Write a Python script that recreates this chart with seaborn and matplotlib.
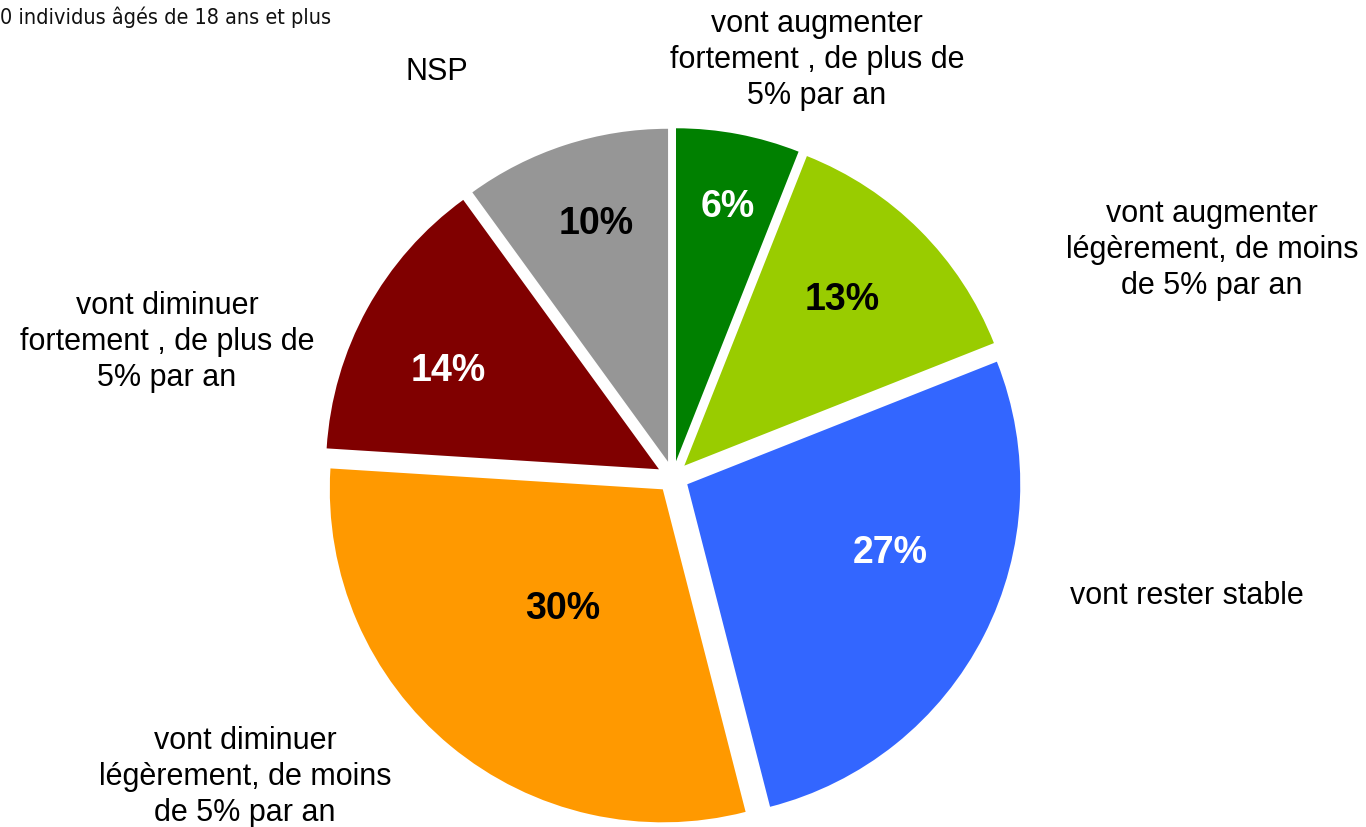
import matplotlib
matplotlib.use("Agg")
import matplotlib.pyplot as plt
import seaborn as sns

# data
categories = [
    "vont augmenter\nfortement , de plus de\n5% par an",
    "vont augmenter\nlégèrement, de moins\nde 5% par an",
    "vont rester stable",
    "vont diminuer\nlégèrement, de moins\nde 5% par an",
    "vont diminuer\nfortement , de plus de\n5% par an",
    "NSP",
]
shares = [6, 13, 27, 30, 14, 10]
note = "0 individus âgés de 18 ans et plus"

# style
colors = ["#008000", "#99CC00", "#3366FF", "#FF9900", "#800000", "#969696"]
pct_colors = ["white", "black", "white", "black", "white", "black"]
W, H = 1366, 828
center_px = (673, 478)
radius_px = 333
explode_px = 16
# label positions in pixels (x, y from top)
pct_pos = [(728, 207), (842, 300), (890, 553), (563, 609), (448, 371), (596, 224)]
label_pos = [(817, 60), (1212, 250), (1187, 596), (245, 777), (167, 342), (437, 72)]

sns.set_style("white")
plt.rcParams["font.family"] = ["Liberation Sans", "DejaVu Sans"]

fig = plt.figure(figsize=(W / 100, H / 100), dpi=100)
ax = fig.add_axes([0, 0, 1, 1])

wedges, _, autotexts = ax.pie(
    shares,
    colors=sns.color_palette(colors),
    startangle=90,
    counterclock=False,
    center=(center_px[0], H - center_px[1]),
    radius=radius_px,
    explode=[explode_px] * len(shares),
    autopct="%1.0f%%",
    wedgeprops=dict(linewidth=0),
)
for t, c, (px, py) in zip(autotexts, pct_colors, pct_pos):
    t.set_position((px, H - py))
    t.set_color(c)
    t.set_fontsize(27)
    t.set_fontweight("bold")
    t.set_ha("center")
    t.set_va("center")

for lab, (px, py) in zip(categories, label_pos):
    ax.text(px, H - py, lab, ha="center", va="center", fontsize=22,
            linespacing=1.27, color="black")

ax.text(0, H - 17, note, ha="left", va="center", fontsize=15.5,
        family=["Liberation Sans Narrow", "DejaVu Sans"],
        fontstretch="condensed", color="#111111")

ax.set_xlim(0, W)
ax.set_ylim(0, H)
ax.axis("off")

fig.savefig("out.png", dpi=100)
plt.close(fig)
